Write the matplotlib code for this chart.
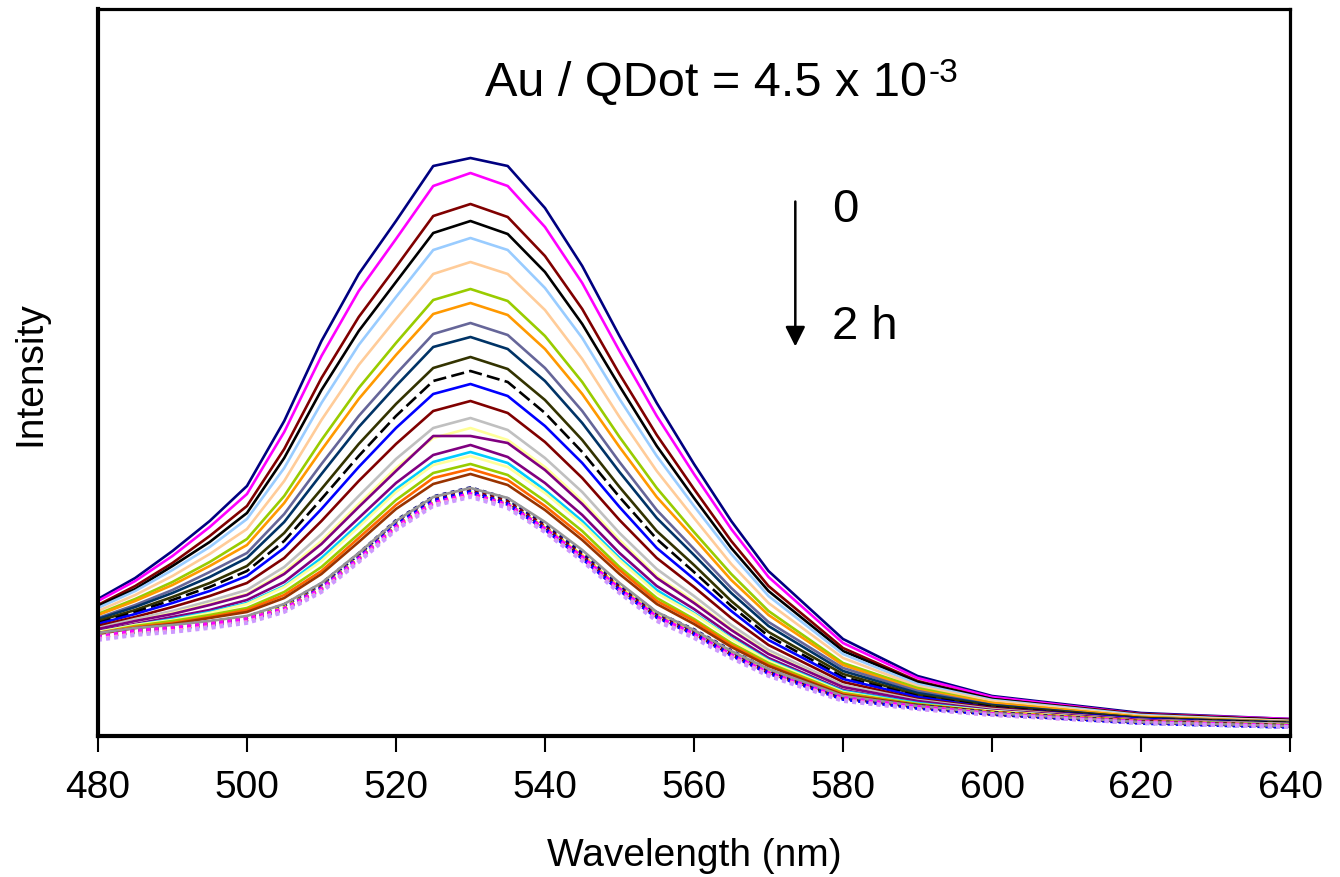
import matplotlib
matplotlib.use("Agg")
import matplotlib.pyplot as plt

plt.rcParams['font.family'] = ['Liberation Sans', 'DejaVu Sans']

# wavelength grid (nm) and intensities (arbitrary units)
wavelength = [480, 485, 490, 495, 500, 505, 510, 515, 520, 525, 530, 535,
              540, 545, 550, 555, 560, 565, 570, 580, 590, 600, 620, 640]

navy = [137, 158, 185, 215, 250, 315, 395, 462, 515, 570, 578, 570, 528, 470, 400, 333, 272, 215, 165, 97, 60, 40, 23, 17]
magenta = [135, 155, 180, 209, 242, 304, 380, 445, 497, 550, 563, 550, 509, 453, 385, 320, 262, 207, 159, 93, 58, 39, 22, 17]
darkred = [131, 150, 173, 200, 230, 287, 358, 419, 469, 520, 532, 519, 480, 427, 362, 301, 247, 195, 150, 88, 55, 37, 22, 16]
black = [130, 147, 170, 194, 223, 278, 346, 405, 454, 503, 515, 502, 464, 412, 350, 290, 238, 188, 145, 85, 54, 37, 21, 16]
lightblue = [128, 145, 166, 189, 217, 268, 333, 391, 439, 486, 498, 486, 448, 398, 337, 280, 230, 182, 140, 82, 52, 36, 21, 15]
peach = [125, 141, 160, 182, 207, 255, 316, 371, 417, 462, 474, 462, 426, 377, 319, 265, 218, 172, 133, 78, 50, 35, 20, 15]
lime = [122, 137, 154, 174, 197, 240, 296, 348, 393, 436, 447, 435, 400, 354, 299, 248, 204, 162, 125, 73, 48, 33, 19, 14]
orange = [121, 135, 151, 170, 191, 233, 286, 337, 381, 422, 433, 421, 387, 342, 289, 239, 198, 156, 121, 71, 46, 33, 19, 14]
slate = [118, 131, 146, 164, 183, 222, 272, 320, 362, 402, 413, 401, 368, 325, 274, 226, 187, 148, 114, 68, 45, 31, 18, 14]
darkteal = [117, 129, 143, 159, 178, 214, 262, 309, 350, 389, 399, 387, 355, 313, 264, 218, 181, 143, 110, 65, 43, 31, 18, 13]
olive = [115, 126, 139, 153, 170, 203, 247, 292, 332, 368, 379, 367, 336, 296, 249, 205, 171, 135, 104, 62, 41, 30, 18, 13]
black_dash = [113, 124, 136, 149, 165, 195, 237, 280, 320, 355, 365, 354, 323, 284, 239, 197, 164, 130, 100, 59, 40, 29, 17, 13]
blue = [112, 122, 133, 145, 160, 188, 227, 269, 308, 342, 352, 340, 310, 273, 229, 188, 157, 125, 96, 57, 39, 28, 17, 12]
darkred2 = [110, 119, 129, 140, 153, 178, 215, 255, 292, 325, 335, 323, 294, 258, 216, 178, 149, 118, 91, 54, 37, 28, 16, 12]
gray = [108, 117, 125, 135, 146, 169, 202, 240, 277, 308, 318, 306, 278, 244, 203, 167, 140, 111, 86, 51, 36, 27, 16, 12]
paleyellow = [107, 115, 123, 132, 142, 164, 195, 232, 268, 298, 308, 296, 269, 235, 196, 160, 135, 107, 83, 49, 35, 26, 16, 11]
purple = [107, 115, 122, 131, 141, 162, 192, 229, 265, 300, 300, 293, 266, 232, 193, 158, 133, 106, 82, 49, 35, 26, 16, 11]
purple2 = [105, 112, 119, 126, 136, 154, 183, 218, 253, 281, 291, 279, 253, 221, 183, 150, 127, 101, 78, 46, 33, 25, 15, 11]
cyan = [104, 111, 117, 124, 133, 150, 178, 212, 247, 274, 284, 273, 246, 215, 178, 146, 123, 98, 76, 45, 33, 25, 15, 11]
paleyellow2 = [104, 111, 116, 123, 132, 149, 175, 209, 244, 271, 280, 269, 243, 212, 176, 143, 122, 97, 75, 44, 32, 25, 15, 11]
lime2 = [103, 110, 115, 121, 128, 144, 169, 202, 236, 263, 272, 261, 235, 205, 169, 138, 117, 93, 73, 43, 32, 24, 15, 11]
orange2 = [103, 109, 113, 119, 126, 141, 165, 198, 231, 258, 267, 256, 230, 200, 166, 135, 115, 91, 71, 42, 31, 24, 15, 10]
brown = [102, 108, 112, 118, 124, 138, 162, 194, 227, 252, 262, 251, 226, 196, 162, 132, 112, 89, 70, 41, 31, 24, 14, 10]

dot_navy = [102, 107, 110, 114, 119, 131, 152, 182, 215, 239, 248, 237, 212, 183, 151, 123, 106, 85, 66, 39, 30, 23, 14, 10]
dot_darkred = [100, 105, 108, 112, 117, 128, 149, 179, 211, 236, 246, 234, 209, 180, 148, 120, 103, 82, 64, 38, 29, 22, 14, 10]
dot_cyan = [98, 103, 106, 110, 115, 126, 146, 176, 208, 232, 241, 230, 206, 178, 146, 118, 101, 80, 62, 37, 28, 22, 13, 9]
dot_yellow = [100, 104, 108, 112, 117, 128, 148, 178, 210, 234, 243, 232, 208, 180, 148, 120, 103, 82, 64, 38, 29, 23, 14, 10]
dot_blue = [99, 104, 107, 111, 116, 127, 148, 178, 211, 235, 244, 232, 207, 178, 146, 119, 102, 81, 63, 37, 28, 22, 13, 9]
gray2 = [103, 108, 111, 115, 120, 132, 153, 183, 215, 239, 248, 238, 214, 186, 153, 124, 106, 85, 67, 40, 30, 23, 14, 10]
dot_magenta = [99, 105, 108, 112, 117, 127, 147, 177, 209, 233, 242, 231, 207, 179, 147, 119, 102, 81, 63, 38, 29, 22, 14, 10]
dot_pink = [97, 102, 105, 109, 114, 125, 145, 175, 207, 231, 240, 229, 204, 176, 144, 116, 99, 79, 61, 36, 27, 21, 13, 9]
dot_lavender = [96, 101, 104, 108, 113, 124, 144, 174, 206, 230, 239, 228, 204, 175, 143, 115, 98, 78, 60, 35, 27, 21, 13, 9]

series = [
    (navy, '#000080', 'solid'), (magenta, '#FF00FF', 'solid'),
    (darkred, '#800000', 'solid'), (black, '#000000', 'solid'),
    (lightblue, '#99CCFF', 'solid'), (peach, '#FFCC99', 'solid'),
    (lime, '#99CC00', 'solid'), (orange, '#FF9900', 'solid'),
    (slate, '#666699', 'solid'), (darkteal, '#003366', 'solid'),
    (olive, '#333300', 'solid'), (black_dash, '#000000', 'dash'),
    (blue, '#0000FF', 'solid'), (darkred2, '#800000', 'solid'),
    (gray, '#C0C0C0', 'solid'), (paleyellow, '#FFFF99', 'solid'),
    (purple, '#800080', 'solid'), (purple2, '#800080', 'solid'),
    (cyan, '#00CCFF', 'solid'), (paleyellow2, '#FFFF99', 'solid'),
    (lime2, '#99CC00', 'solid'), (orange2, '#FF6600', 'solid'),
    (brown, '#993300', 'solid'),
    (dot_navy, '#000080', 'dot'), (dot_darkred, '#800000', 'dot'),
    (dot_cyan, '#00FFFF', 'dot'), (dot_yellow, '#FFFF00', 'dot'),
    (dot_blue, '#0000FF', 'dot'), (gray2, '#969696', 'solid'),
    (dot_magenta, '#FF00FF', 'dot'), (dot_pink, '#FF99CC', 'dot'),
    (dot_lavender, '#CC99FF', 'dot'),
]

fig = plt.figure(figsize=(13.4, 8.78), dpi=100)
ax = fig.add_axes([0.0731, 0.1606, 0.8896, 0.828])

for values, color, style in series:
    if style == 'dot':
        ax.plot(wavelength, values, color=color, lw=2.8, linestyle=(0, (1, 1.1)))
    elif style == 'dash':
        ax.plot(wavelength, values, color=color, lw=1.9, linestyle=(0, (5, 2)))
    else:
        ax.plot(wavelength, values, color=color, lw=1.9)

ax.set_xlim(480, 640)
ax.set_ylim(0, 727)
ax.set_xticks(range(480, 641, 20))
ax.set_yticks([])
ax.tick_params(axis='x', direction='out', length=11.5, width=1.5, labelsize=28, pad=12)
for side in ['left', 'bottom']:
    ax.spines[side].set_linewidth(3)
for side in ['top', 'right']:
    ax.spines[side].set_linewidth(2.3)

ax.set_xlabel('Wavelength (nm)', fontsize=28, labelpad=23)
fig.text(0.0224, 0.574, 'Intensity', rotation=90, ha='center', va='center', fontsize=28)

# title text with a separate superscript after "10"
title = ax.text(0.3247, 0.8817, 'Au / QDot = 4.5 x 10', transform=ax.transAxes,
                ha='left', va='baseline', fontsize=35)
fig.canvas.draw()
bb = title.get_window_extent()
fig.text(bb.x1 / fig.bbox.width + 0.001, 1 - 82 / 878, '-3', ha='left', va='baseline', fontsize=24)

ax.annotate('', xy=(0.585, 0.532), xytext=(0.585, 0.739), xycoords='axes fraction',
            arrowprops=dict(arrowstyle='-|>', lw=1.8, color='black', mutation_scale=30))
ax.text(0.616, 0.725, '0', transform=ax.transAxes, ha='left', va='center', fontsize=34)
ax.text(0.616, 0.564, '2 h', transform=ax.transAxes, ha='left', va='center', fontsize=34)

fig.savefig('out.png', dpi=100)
